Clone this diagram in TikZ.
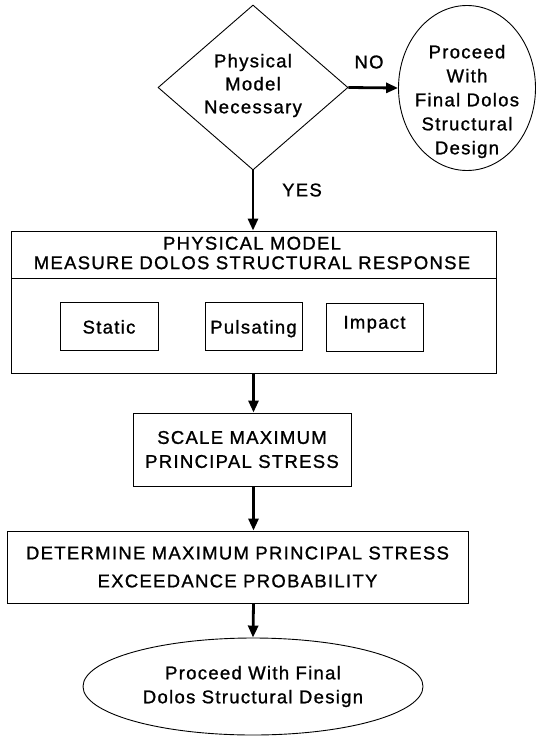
\documentclass[tikz,border=0pt]{standalone}
\usepackage{fontspec}
\setmainfont{Liberation Sans}[LetterSpace=7,FakeBold=1.1]
\usetikzlibrary{shapes.geometric,arrows.meta}
\begin{document}
\begin{tikzpicture}[x=1pt,y=-1pt,
  every node/.style={font=\fontsize{18.5}{24}\selectfont, align=center, inner sep=0pt},
  box/.style={draw, line width=0.9pt, rectangle},
  flow/.style={line width=2.8pt, -{Triangle[length=12pt,width=10pt]}},
  thin/.style={line width=0.9pt}
]
\useasboundingbox (0,0) rectangle (537,736);
% decision
\node[draw, thin, diamond, minimum width=190pt, minimum height=165pt] (dec) at (253,87.5) {};
\node[font=\fontsize{18.5}{23}\selectfont] (dect) at (253,85.5) {Physical\\Model\\Necessary};
% proceed ellipse (top right)
\node[draw, thin, ellipse, minimum width=137pt, minimum height=165pt] (prc) at (467,88) {};
\node (prct) at (467,101.5) {Proceed\\With\\Final Dolos\\Structural\\Design};
\draw[flow] (dec.east) -- (prc.west);
\node (no) at (369,62) {NO};
% physical model box
\node[box, minimum width=485pt, minimum height=142pt] (pm) at (253.5,302) {};
\coordinate (dl) at (11,278);
\coordinate (dr) at (496,278);
\draw[thin] (dl) -- (dr);
\node[font=\fontsize{18.5}{19.5}\selectfont] (pmt) at (252,253) {PHYSICAL MODEL\\MEASURE DOLOS STRUCTURAL RESPONSE};
\draw[flow] (dec.south) -- (dec.south |- pm.north);
\node (yes) at (302,190) {YES};
\node[box, minimum width=98pt, minimum height=48pt, text height=15pt, text depth=0pt] (st) at (109,326) {Static};
\node[box, minimum width=97pt, minimum height=48pt, text height=15pt, text depth=0pt] (pu) at (253.5,326) {Pulsating};
\node[box, minimum width=97pt, minimum height=48pt, text height=13pt, text depth=9.8pt] (im) at (374.5,327) {Impact};
% scale
\node[box, minimum width=218pt, minimum height=73pt] (sc) at (242,449.5) {SCALE MAXIMUM\\PRINCIPAL STRESS};
\draw[flow] (pm.south) -- (pm.south |- sc.north);
% determine
\node[box, minimum width=461pt, minimum height=72pt, font=\fontsize{18.5}{28}\selectfont] (det) at (237.5,567) {DETERMINE MAXIMUM PRINCIPAL STRESS\\EXCEEDANCE PROBABILITY};
\draw[flow] (pm.south |- sc.south) -- (pm.south |- det.north);
% end
\node[draw, thin, ellipse, minimum width=340pt, minimum height=97pt] (en) at (253,686.5) {Proceed With Final\\Dolos Structural Design};
\draw[flow] (pm.south |- det.south) -- (en.north);
\end{tikzpicture}
\end{document}
